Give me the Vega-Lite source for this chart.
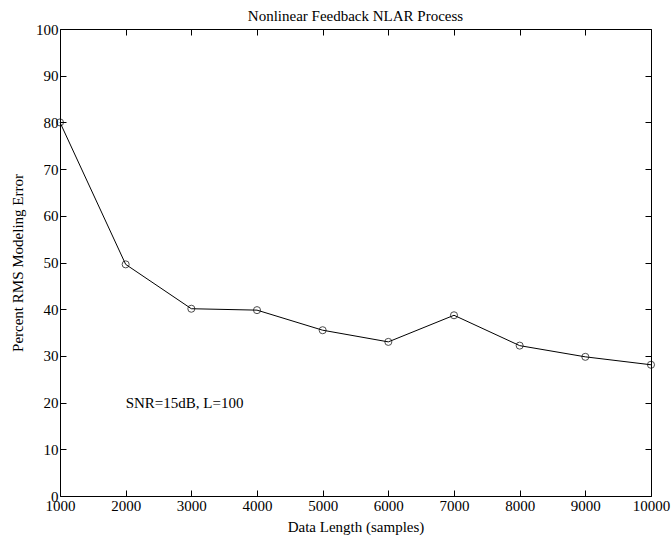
{
  "$schema": "https://vega.github.io/schema/vega-lite/v6.json",
  "width": 591,
  "height": 467,
  "autosize": {"type": "none"},
  "padding": {"left": 60, "top": 29, "right": 21, "bottom": 45},
  "background": "white",
  "title": {"text": "Nonlinear Feedback NLAR Process", "font": "Liberation Serif", "fontSize": 15, "fontWeight": "normal", "color": "black", "offset": -2, "anchor": "middle"},
  "config": {
    "view": {"stroke": null},
    "axis": {"grid": false, "domainColor": "black", "tickColor": "black", "labelColor": "black", "titleColor": "black", "labelFont": "Liberation Serif", "titleFont": "Liberation Serif", "labelFontSize": 15, "titleFontSize": 15, "titleFontWeight": "normal", "tickSize": -6, "domainWidth": 1, "tickWidth": 1}
  },
  "data": {"values": [
    {"n": 1000, "err": 80.0},
    {"n": 2000, "err": 49.6},
    {"n": 3000, "err": 40.1},
    {"n": 4000, "err": 39.8},
    {"n": 5000, "err": 35.5},
    {"n": 6000, "err": 33.0},
    {"n": 7000, "err": 38.7},
    {"n": 8000, "err": 32.2},
    {"n": 9000, "err": 29.8},
    {"n": 10000, "err": 28.1}
  ]},
  "layer": [
    {
      "mark": {"type": "line", "color": "black", "strokeWidth": 1},
      "encoding": {
        "x": {"field": "n", "type": "quantitative", "scale": {"domain": [1000, 10000], "nice": false, "zero": false},
          "axis": {"title": "Data Length (samples)", "values": [1000,2000,3000,4000,5000,6000,7000,8000,9000,10000], "format": "d", "labelPadding": 8, "titlePadding": 6, "labelFlush": false}},
        "y": {"field": "err", "type": "quantitative", "scale": {"domain": [0, 100], "nice": false},
          "axis": {"title": "Percent RMS Modeling Error", "values": [0,10,20,30,40,50,60,70,80,90,100], "labelPadding": 8, "titlePadding": 10}}
      }
    },
    {
      "mark": {"type": "point", "shape": "circle", "filled": false, "color": "black", "size": 50, "strokeWidth": 1},
      "encoding": {
        "x": {"field": "n", "type": "quantitative", "axis": null},
        "y": {"field": "err", "type": "quantitative", "axis": null}
      }
    },
    {
      "data": {"values": [{"n": 2000, "err": 20, "label": "SNR=15dB, L=100"}]},
      "mark": {"type": "text", "align": "left", "baseline": "middle", "font": "Liberation Serif", "fontSize": 15, "color": "black"},
      "encoding": {
        "x": {"field": "n", "type": "quantitative", "axis": {"orient": "top", "labels": false, "title": null, "values": [1000,2000,3000,4000,5000,6000,7000,8000,9000,10000]}},
        "y": {"field": "err", "type": "quantitative", "axis": {"orient": "right", "labels": false, "title": null, "values": [0,10,20,30,40,50,60,70,80,90,100]}},
        "text": {"field": "label"}
      }
    }
  ],
  "resolve": {"axis": {"x": "independent", "y": "independent"}}
}
